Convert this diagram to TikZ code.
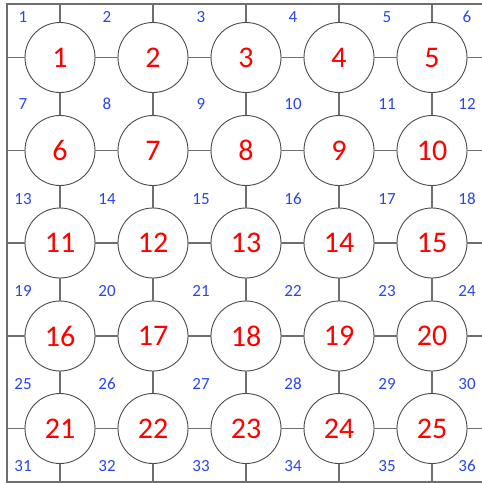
\documentclass[tikz,border=0pt]{standalone}
\usepackage{fontspec}
\setmainfont{Carlito}
\usetikzlibrary{positioning}
\definecolor{gridline}{RGB}{110,110,110}
\definecolor{cellborder}{RGB}{75,75,75}
\definecolor{cellnum}{RGB}{255,0,0}
\definecolor{cornernum}{RGB}{40,70,235}

\begin{document}
\begin{tikzpicture}[x=1pt,y=-1pt]
\tikzset{cell/.style={circle,draw=cellborder,line width=0.9pt,fill=white,minimum size=70pt,inner sep=0pt,
  font=\fontsize{30}{30}\selectfont,text=cellnum},
  corner/.style={font=\fontsize{17}{17}\selectfont,text=cornernum,inner sep=0pt},
  wire/.style={draw=gridline,line width=1.4pt}}
\useasboundingbox (0,0) rectangle (482,483);

% frame corners
\coordinate (tl) at (7,4);
\coordinate (tr) at (482,4);
\coordinate (bl) at (7,482);
\coordinate (br) at (482,482);

% circles
\foreach \y [count=\r from 0] in {57.5,150.5,243,336,428.5}
  \foreach \x [count=\c from 1] in {60,153,246,339,432}
  { \pgfmathtruncatemacro{\k}{5*\r+\c}
    \node[cell] (c\k) at (\x,\y) {\k}; }

% free ends on the frame
\foreach \x [count=\c from 1] in {60,153,246,339,432}
  { \coordinate (t\c) at (\x,4);
    \coordinate (b\c) at (\x,482); }
\foreach \y [count=\r from 1] in {57.5,150.5,243,336,428.5}
  { \coordinate (l\r) at (7,\y);
    \coordinate (r\r) at (482,\y); }

% frame
\draw[wire] (tr) -- (tl) -- (bl) -- (br);

% wires
\foreach \c in {1,...,5}
  { \pgfmathtruncatemacro{\d}{20+\c}
    \draw[wire] (t\c) -- (c\c);
    \draw[wire] (c\d) -- (b\c); }
\foreach \r in {1,...,5}
  { \pgfmathtruncatemacro{\a}{5*\r-4}
    \pgfmathtruncatemacro{\e}{5*\r}
    \draw[wire] (l\r) -- (c\a);
    \draw[wire] (c\e) -- (r\r); }
\foreach \k in {1,...,25}
  { \pgfmathtruncatemacro{\m}{mod(\k,5)}
    \ifnum\m>0 \pgfmathtruncatemacro{\n}{\k+1}\draw[wire] (c\k) -- (c\n);\fi
    \ifnum\k<21 \pgfmathtruncatemacro{\n}{\k+5}\draw[wire] (c\k) -- (c\n);\fi }

% corner numbers
\foreach \y [count=\r from 0] in {17,104,199,291,384,466}
  \foreach \x [count=\c from 1] in {23,107,201,293,387,467}
  { \pgfmathtruncatemacro{\k}{6*\r+\c}
    \node[corner] (n\k) at (\x,\y) {\k}; }
\end{tikzpicture}
\end{document}
